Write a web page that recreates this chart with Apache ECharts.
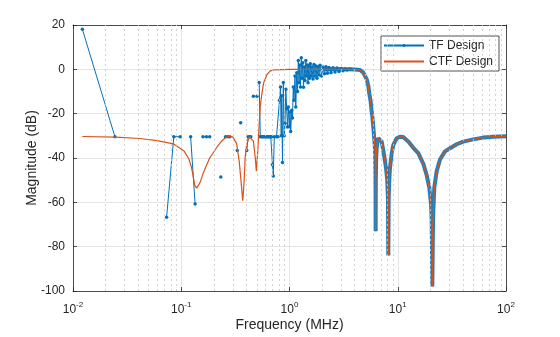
<!DOCTYPE html>
<html>
<head>
<meta charset="utf-8">
<script src="https://cdn.jsdelivr.net/npm/echarts@6/dist/echarts.min.js"></script>
<style>
  html, body { margin: 0; padding: 0; background: #fff; }
  #chart { width: 560px; height: 337px; }
</style>
</head>
<body>
<div id="chart"></div>
<script>
// Axis ticks
const xMajorTicks = [0.01, 0.1, 1, 10, 100];
const xMinorMultipliers = [2, 3, 4, 5, 6, 7, 8, 9];
const yTicks = [-100, -80, -60, -40, -20, 0, 20];

// CTF design response: frequency (MHz) and magnitude (dB)
const ctfFreq = [
  0.0122, 0.0246, 0.0413, 0.060, 0.0845, 0.106, 0.117, 0.124, 0.128, 0.133,
  0.139, 0.144, 0.149, 0.160, 0.183, 0.216, 0.237, 0.260, 0.280, 0.300,
  0.325, 0.344, 0.362, 0.370, 0.381, 0.389, 0.402, 0.425, 0.441, 0.464,
  0.483, 0.494, 0.509, 0.524, 0.538, 0.558, 0.578, 0.621, 0.666, 0.715,
  0.85, 1.0, 1.5, 2.0, 2.5, 3.0, 3.5, 4.0, 4.48, 4.81,
  4.98, 5.17, 5.35, 5.46, 5.62, 5.75, 5.82, 5.94, 6.05, 6.13,
  6.19, 6.23, 6.25, 6.27, 6.32, 6.39, 6.50, 6.61, 6.86, 7.11,
  7.46, 7.79, 8.00, 8.12, 8.18, 8.24, 8.35, 8.48, 8.80, 9.10,
  9.78, 10.49, 11.25, 12.52, 13.92, 15.48, 17.22, 18.51, 19.57, 20.29,
  20.6, 20.86, 21.1, 21.3, 21.76, 22.90, 24.56, 27.33, 30.39, 35.05,
  40.33, 49.88, 61.71, 76.32, 100
];
const ctfMag = [
  -30.3, -30.6, -31.2, -32.2, -33.6, -36.8, -40.2, -44.0, -47.4, -52.2,
  -53.6, -53.2, -51.1, -46.7, -40.0, -34.8, -32.3, -30.6, -30.1, -30.6,
  -33.5, -42.0, -54.0, -59.3, -50.4, -40.0, -34.1, -30.4, -29.9, -32.4,
  -40.0, -45.9, -37.0, -25.2, -16.3, -10.4, -5.9, -2.2, -0.7, -0.3,
  -0.1, 0, 0, 0, 0, 0, 0, -0.1, -0.3, -1.5,
  -2.2, -4.5, -7.5, -11.0, -14.5, -19.3, -21.0, -26.0, -30.5, -34.1,
  -39.0, -50.0, -73.0, -50.0, -40.0, -35.6, -32.8, -31.1, -30.4, -32.6,
  -38.5, -44.4, -50.0, -58.0, -84.0, -58.0, -50.0, -44.4, -37.8, -34.1,
  -31.1, -30.4, -30.5, -32.6, -35.4, -37.8, -42.6, -47.8, -53.4, -60.7,
  -68.0, -98.0, -75.0, -64.0, -53.3, -45.9, -40.7, -37.0, -35.6, -33.8,
  -32.6, -31.6, -30.8, -30.4, -30.2
];

// TF design response below the passband settling point (null = no value)
const tfFreq = [
  0.0122, 0.0244, 0.0366, 0.0732, 0.0854, 0.0977, 0.1099, 0.1221, 0.1343, 0.1465,
  0.1587, 0.1709, 0.1831, 0.1953, 0.2319, 0.2441, 0.2563, 0.2686, 0.2808, 0.2930,
  0.3296, 0.3418, 0.3540, 0.3662, 0.4028, 0.4150, 0.4272, 0.4395, 0.4517, 0.4639,
  0.4761, 0.5005, 0.5127, 0.5249, 0.5371, 0.5493, 0.5615, 0.5737, 0.5859, 0.5981,
  0.6104, 0.6226, 0.6348, 0.6470, 0.6592, 0.6714, 0.6836, 0.6958, 0.7080,
  0.7239, 0.7585, 0.7831, 0.8084, 0.8258, 0.8381, 0.8470, 0.8616, 0.8764, 0.8933,
  0.9087, 0.9244, 0.9422, 0.9583, 0.9748, 0.9958, 1.011, 1.026, 1.048, 1.066,
  1.084, 1.101, 1.124, 1.143, 1.166, 1.186, 1.206, 1.224, 1.245, 1.264,
  1.285, 1.305, 1.327, 1.347, 1.370, 1.391, 1.415, 1.436, 1.460, 1.483,
  1.508, 1.531, 1.557, 1.580, 1.615, 1.649, 1.684, 1.721, 1.758, 1.795,
  1.834, 1.874, 1.914, 1.976, 2.040, 2.106, 2.175, 2.245, 2.318, 2.419,
  2.524, 2.633, 2.748, 2.867, 2.992, 3.122, 3.257, 3.399, 3.623
];
const tfMag = [
  18.1, -30.4, null, -66.7, -30.4, -30.4, null, -30.4, -60.7, null,
  -30.4, -30.4, -30.4, null, -48.6, null, -30.4, -30.4, -30.4, null,
  -36.6, null, -24.1, null, -36.6, -30.4, -30.4, -30.4, null, -12.1,
  null, -12.1, null, -5.9, -30.4, -30.4, -30.4, -30.4, -30.4, -30.4,
  -30.4, -30.4, -30.4, -30.4, -30.4, -30.4, -30.4, -43.0, -48.1,
  -30.4, -30.4, -30.4, -14.0, -8.0, -30.0, -11.9, -42.0, -5.9, -30.0,
  -24.4, -9.0, -17.8, -26.0, -17.0, -25.9, -19.3, -28.0, -18.5, -22.0,
  -8.0, -14.0, -3.0, -17.0, -1.5, -10.0, 4.0, -6.0, 2.0, -8.0,
  5.2, -4.0, 3.0, -8.1, 1.0, -5.0, 4.0, -3.0, 2.0, -6.0,
  1.5, -4.0, 2.5, -3.0, 1.0, -4.4, 2.2, -3.0, 1.5, -4.0,
  1.0, -2.5, 1.8, -3.0, 1.0, -2.0, 1.2, -1.8, 0.8, -1.5,
  0.7, -1.2, 0.6, -1.0, 0.4, -0.6, 0.2, -0.3, 0.1
];
// From here on the TF samples sit on the CTF curve, densely packed
const tfSettleFreq = 1.9;

const BLUE = '#0072BD';
const ORANGE = '#D95319';
const INK = '#262626';
const FONT = 'Liberation Sans, Arial, Helvetica, sans-serif';

const ctfData = ctfFreq.map((f, i) => [f, ctfMag[i]]);
const tfData = tfFreq.map((f, i) => [f, tfMag[i] === null ? '-' : tfMag[i]]);
const tfDense = ctfData.filter(p => p[0] >= tfSettleFreq);

const minorLines = [];
for (const base of xMajorTicks.slice(0, -1)) {
  for (const m of xMinorMultipliers) minorLines.push({ xAxis: +(base * m).toPrecision(3) });
}

const chart = echarts.init(document.getElementById('chart'), null, { renderer: 'canvas' });

const xCommon = {
  type: 'log', logBase: 10, min: 0.01, max: 100,
  axisLine: { show: true, onZero: false, lineStyle: { color: INK, width: 0.8 } },
  axisTick: { show: true, inside: true, length: 4, lineStyle: { color: INK, width: 0.8 } }
};
const yCommon = {
  type: 'value', min: -100, max: 20, interval: 20,
  axisLine: { show: true, onZero: false, lineStyle: { color: INK, width: 0.8 } },
  axisTick: { show: true, inside: true, length: 4, lineStyle: { color: INK, width: 0.8 } }
};

chart.setOption({
  animation: false,
  backgroundColor: '#fff',
  textStyle: { fontFamily: FONT },
  grid: { left: 73, right: 54, top: 25, bottom: 41.5, containLabel: false },
  legend: {
    data: [
      { name: 'TF Design' },
      { name: 'CTF Design', itemStyle: { opacity: 0 } }
    ],
    orient: 'vertical',
    left: 381, top: 36,
    padding: [3, 6, 3, 2],
    itemGap: 3,
    itemWidth: 40, itemHeight: 4,
    backgroundColor: '#fff',
    borderColor: INK, borderWidth: 0.8, borderRadius: 0,
    textStyle: { fontSize: 12, color: INK, fontFamily: FONT, lineHeight: 13 }
  },
  xAxis: [
    Object.assign({}, xCommon, {
      position: 'bottom',
      name: 'Frequency (MHz)', nameLocation: 'middle', nameGap: 27,
      nameMoveOverlap: false,
      nameTextStyle: { fontSize: 14, color: INK, fontFamily: FONT },
      axisLabel: {
        margin: 10, color: INK, fontSize: 12, fontFamily: FONT,
        formatter: v => '{b|10}{s|' + Math.round(Math.log10(v)) + '}',
        rich: {
          b: { fontSize: 12, color: INK, fontFamily: FONT, lineHeight: 15, verticalAlign: 'bottom' },
          s: { fontSize: 8, color: INK, fontFamily: FONT, lineHeight: 15, verticalAlign: 'top' }
        }
      },
      splitLine: { show: true, lineStyle: { color: '#dedede', width: 0.8 } }
    }),
    Object.assign({}, xCommon, {
      position: 'top', axisLabel: { show: false }, splitLine: { show: false }
    })
  ],
  yAxis: [
    Object.assign({}, yCommon, {
      position: 'left',
      name: 'Magnitude (dB)', nameLocation: 'middle', nameGap: 34,
      nameMoveOverlap: false,
      nameTextStyle: { fontSize: 14, color: INK, fontFamily: FONT },
      axisLabel: { margin: 8, color: INK, fontSize: 12, fontFamily: FONT },
      splitLine: { show: true, lineStyle: { color: '#dedede', width: 0.8 } }
    }),
    Object.assign({}, yCommon, {
      position: 'right', axisLabel: { show: false }, splitLine: { show: false }
    })
  ],
  series: [
    {
      name: 'grid-minor', type: 'line', data: [], silent: true, z: 0,
      markLine: {
        silent: true, symbol: ['none', 'none'], animation: false,
        label: { show: false },
        lineStyle: { color: '#c8c8c8', width: 0.8, type: [2, 3] },
        data: minorLines
      }
    },
    {
      name: 'TF Design', type: 'line', data: tfData,
      symbol: 'circle', symbolSize: 3.5, showSymbol: true, showAllSymbol: true,
      connectNulls: false,
      itemStyle: { color: BLUE },
      lineStyle: { color: BLUE, width: 1 },
      z: 2
    },
    {
      name: 'TF Design', type: 'line', data: tfDense,
      symbol: 'none', showSymbol: false,
      itemStyle: { color: BLUE },
      lineStyle: { color: BLUE, width: 4, opacity: 0.9 },
      z: 2
    },
    {
      name: 'CTF Design', type: 'line', data: ctfData,
      symbol: 'none', showSymbol: false, smooth: false,
      itemStyle: { color: ORANGE },
      lineStyle: { color: ORANGE, width: 1.2 },
      z: 3
    }
  ]
});
</script>
</body>
</html>
